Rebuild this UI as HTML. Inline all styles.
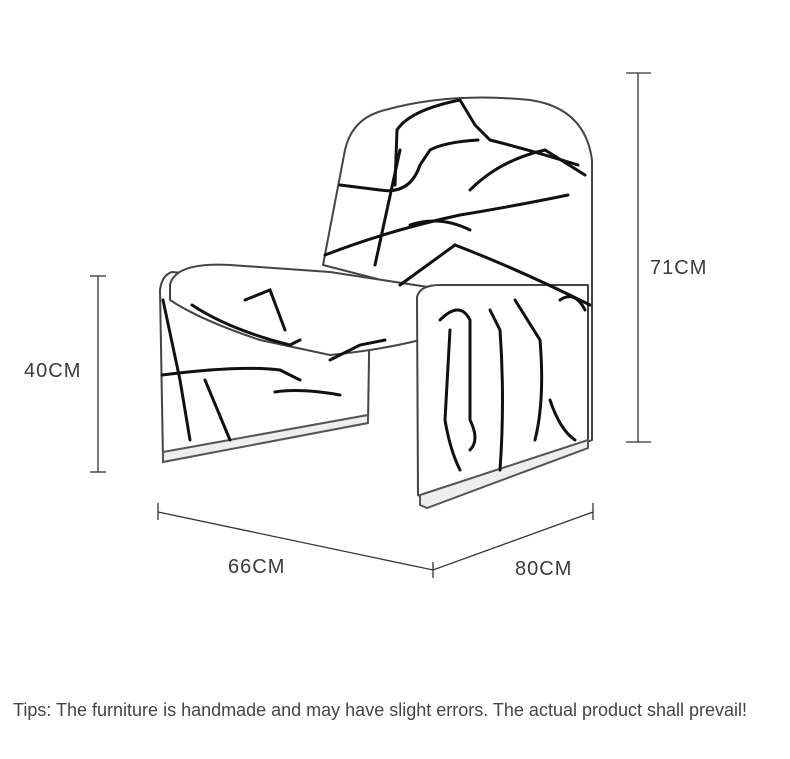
<!DOCTYPE html>
<html><head><meta charset="utf-8"><style>
html,body{margin:0;padding:0;background:#fff;width:790px;height:759px;overflow:hidden}
.t{position:absolute;font-family:"Liberation Sans",sans-serif;color:#333}
.d{font-size:20px;letter-spacing:1px;color:#3a3a3a}
</style></head><body>
<svg width="790" height="759" style="position:absolute;left:0;top:0">
<g stroke="#333" stroke-width="1.3" fill="none">
<line x1="638" y1="73" x2="638" y2="442"/><line x1="626" y1="73" x2="651" y2="73"/><line x1="626" y1="442" x2="651" y2="442"/>
<line x1="98" y1="276" x2="98" y2="472"/><line x1="90" y1="276" x2="106" y2="276"/><line x1="90" y1="472" x2="106" y2="472"/>
<polyline points="158,512 433,570 593,512"/>
<line x1="158" y1="503" x2="158" y2="520"/><line x1="433" y1="562" x2="433" y2="578"/><line x1="593" y1="503" x2="593" y2="520"/>
</g>
<g fill="#fff" stroke="#444" stroke-width="2" stroke-linejoin="round">
<path d="M323,265 L345,150 Q352,118 385,110 Q450,92 530,100 Q585,108 592,160 L592,440 L585,443 L420,290 Z"/>
<path d="M160,290 Q162,275 172,272 L370,290 L368,423 L163,460 Z"/>
<path d="M170,285 Q175,262 230,265 L330,272 L428,287 Q440,292 438,300 L420,340 Q380,350 330,355 L260,340 Q200,320 170,300 Z"/>
<path d="M417,297 Q420,285 440,285 L588,285 L588,442 L427,500 L418,495 Z"/>
</g>
<g stroke="#555" stroke-width="2" fill="#eee">
<path d="M163,452 L368,415 L368,423 L163,462 Z"/>
<path d="M420,495 L588,440 L588,448 L427,508 L420,505 Z"/>
</g>
<g stroke="#111" stroke-width="3" fill="none" stroke-linecap="round">
<path d="M395,185 L397,130 Q410,110 460,100 L475,125 L490,140 Q530,150 578,165"/>
<path d="M340,185 L380,190 Q410,195 420,165 L430,150 Q445,142 478,140"/>
<path d="M325,255 Q390,230 460,215 Q520,205 568,195"/>
<path d="M375,265 L400,150"/>
<path d="M470,190 Q500,160 545,150 L585,175"/>
<path d="M455,245 L400,285"/>
<path d="M455,245 Q520,270 590,305"/>
<path d="M410,225 Q440,215 470,230"/>
<path d="M163,300 L180,380 L190,440"/>
<path d="M162,375 Q240,365 280,370 L300,380"/>
<path d="M205,380 L230,440"/>
<path d="M275,392 Q300,388 340,395"/>
<path d="M192,305 Q230,330 290,345 L300,340"/>
<path d="M330,360 L360,345 L385,340"/>
<path d="M440,320 Q460,300 470,320 L470,420 Q480,440 470,450"/>
<path d="M450,330 L445,420 Q450,450 460,470"/>
<path d="M490,310 L500,330 Q505,400 500,470"/>
<path d="M515,300 L540,340 Q545,400 535,440"/>
<path d="M560,300 Q575,290 585,310"/>
<path d="M550,400 Q560,430 575,440"/>
<path d="M245,300 L270,290 L285,330"/>
</g>
</svg>
<div class="t d" style="left:650px;top:257px">71CM</div>
<div class="t d" style="left:24px;top:360px">40CM</div>
<div class="t d" style="left:228px;top:556px">66CM</div>
<div class="t d" style="left:515px;top:558px">80CM</div>
<div class="t" style="left:13px;top:700px;font-size:18px;color:#444">Tips: The furniture is handmade and may have slight errors. The actual product shall prevail!</div>
</body></html>
